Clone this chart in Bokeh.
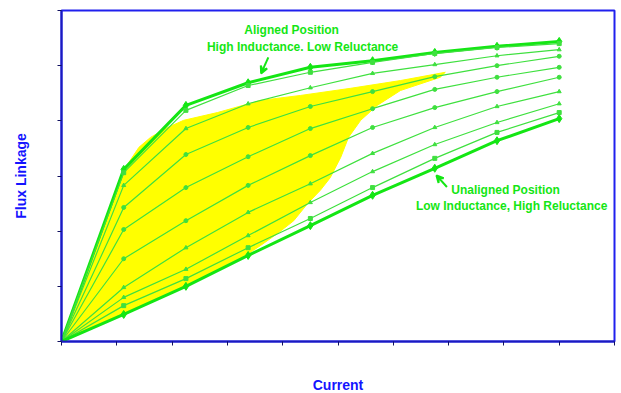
from bokeh.plotting import figure
from bokeh.models import Range1d, Label, Arrow, VeeHead, FixedTicker
from bokeh.embed import file_html
from bokeh.resources import INLINE

# ---- data ----
current = [0, 1.125, 2.25, 3.375, 4.5, 5.625, 6.75, 7.875, 9.0]

flux_aligned = [0, 3.12, 4.28, 4.69, 4.97, 5.09, 5.24, 5.35, 5.44]
flux_pos2 = [0, 3.06, 4.19, 4.64, 4.88, 5.06, 5.22, 5.33, 5.40]
flux_pos3 = [0, 2.83, 3.86, 4.31, 4.60, 4.86, 5.02, 5.18, 5.29]
flux_pos4 = [0, 2.43, 3.39, 3.88, 4.26, 4.53, 4.80, 5.00, 5.17]
flux_pos5 = [0, 2.03, 2.79, 3.35, 3.86, 4.22, 4.57, 4.79, 4.97]
flux_pos6 = [0, 1.50, 2.19, 2.83, 3.37, 3.88, 4.24, 4.53, 4.79]
flux_pos7 = [0, 0.98, 1.70, 2.34, 2.86, 3.41, 3.88, 4.26, 4.53]
flux_pos8 = [0, 0.80, 1.31, 1.92, 2.52, 3.08, 3.57, 3.97, 4.31]
flux_pos9 = [0, 0.65, 1.14, 1.70, 2.23, 2.79, 3.32, 3.79, 4.15]
flux_unaligned = [0, 0.49, 1.00, 1.56, 2.10, 2.65, 3.14, 3.64, 4.04]

# energy-conversion loop (yellow area) boundary
loop_current = [0, 0.90, 1.06, 1.22, 1.40, 1.61, 1.92, 2.21, 2.82, 3.60, 4.32, 5.23, 6.13, 6.94,
                6.85, 6.13, 5.71, 5.41, 5.19, 5.05, 4.86, 4.68, 4.45, 4.20, 3.91, 3.60,
                3.36, 2.24, 1.14]
loop_flux = [0, 2.50, 2.93, 3.25, 3.52, 3.70, 3.88, 4.01, 4.15, 4.37, 4.46, 4.59, 4.73, 4.88,
             4.79, 4.55, 4.28, 4.01, 3.70, 3.34, 2.97, 2.74, 2.50, 2.19, 1.96, 1.74,
             1.58, 1.02, 0.51]

x_ticks = list(range(0, 11))
y_ticks = list(range(0, 7))

curves = [flux_aligned, flux_pos2, flux_pos3, flux_pos4, flux_pos5,
          flux_pos6, flux_pos7, flux_pos8, flux_pos9, flux_unaligned]
markers = ["diamond", "square", "triangle", "circle", "circle",
           "circle", "triangle", "triangle", "square", "diamond"]

GREEN = "#14E614"
THIN = "#3FE03F"
BLUE = "#1414FF"

p = figure(frame_width=553, frame_height=331,
           min_border_left=61, min_border_right=6, min_border_top=10, min_border_bottom=51,
           x_range=Range1d(0, 10), y_range=Range1d(0, 6),
           output_backend="svg", toolbar_location=None)

p.xgrid.visible = False
p.ygrid.visible = False
p.background_fill_color = "white"
p.border_fill_color = "white"
p.outline_line_color = "#2020EE"
p.outline_line_width = 2
p.outline_line_alpha = 1.0

for ax, ticks in ((p.xaxis, x_ticks), (p.yaxis, y_ticks)):
    ax.ticker = FixedTicker(ticks=ticks)
    ax.major_label_overrides = {t: "" for t in ticks}
    ax.major_label_standoff = 0
    ax.major_tick_out = 4
    ax.major_tick_in = 0
    ax.minor_tick_line_color = None
    ax.major_tick_line_color = "#101060"
    ax.axis_line_color = "#1A1AC0"
    ax.axis_line_width = 2
    ax.axis_label_text_font = "Liberation Sans"
    ax.axis_label_text_font_style = "bold"
    ax.axis_label_text_font_size = "14px"
    ax.axis_label_text_color = BLUE

p.xaxis.axis_label = "Current"
p.yaxis.axis_label = "Flux Linkage"
p.xaxis.axis_label_standoff = 31
p.yaxis.axis_label_standoff = 29

# yellow loop
p.patch(loop_current, loop_flux, fill_color="#FFFF00", line_color="#FFFF00", line_width=1)

# curves
for i, (fl, mk) in enumerate(zip(curves, markers)):
    thick = i == 0 or i == len(curves) - 1
    col = GREEN if thick else THIN
    p.line(current, fl, line_color=col, line_width=3 if thick else 1.2)
    p.scatter(current, fl, marker=mk, size=8 if thick else 4,
              fill_color=col, line_color=col)

def lab(x, y, t, align="center"):
    p.add_layout(Label(x=x, y=y, text=t, text_align=align, text_baseline="alphabetic",
                       text_font="Liberation Sans", text_font_style="bold",
                       text_font_size="12px", text_color=GREEN))

lab(4.16, 5.655, "Aligned Position")
lab(4.36, 5.346, "High Inductance. Low Reluctance")
lab(8.03, 2.755, "Unaligned Position")
lab(8.14, 2.46, "Low Inductance, High Reluctance")

p.add_layout(Arrow(end=VeeHead(size=7, line_color=GREEN, fill_color=GREEN, line_width=2),
                   x_start=3.74, y_start=5.15, x_end=3.61, y_end=4.86,
                   line_color=GREEN, line_width=2))
p.add_layout(Arrow(end=VeeHead(size=7, line_color=GREEN, fill_color=GREEN, line_width=2),
                   x_start=6.97, y_start=2.80, x_end=6.78, y_end=3.01,
                   line_color=GREEN, line_width=2))

open("out.html", "w").write(file_html(p, INLINE))
